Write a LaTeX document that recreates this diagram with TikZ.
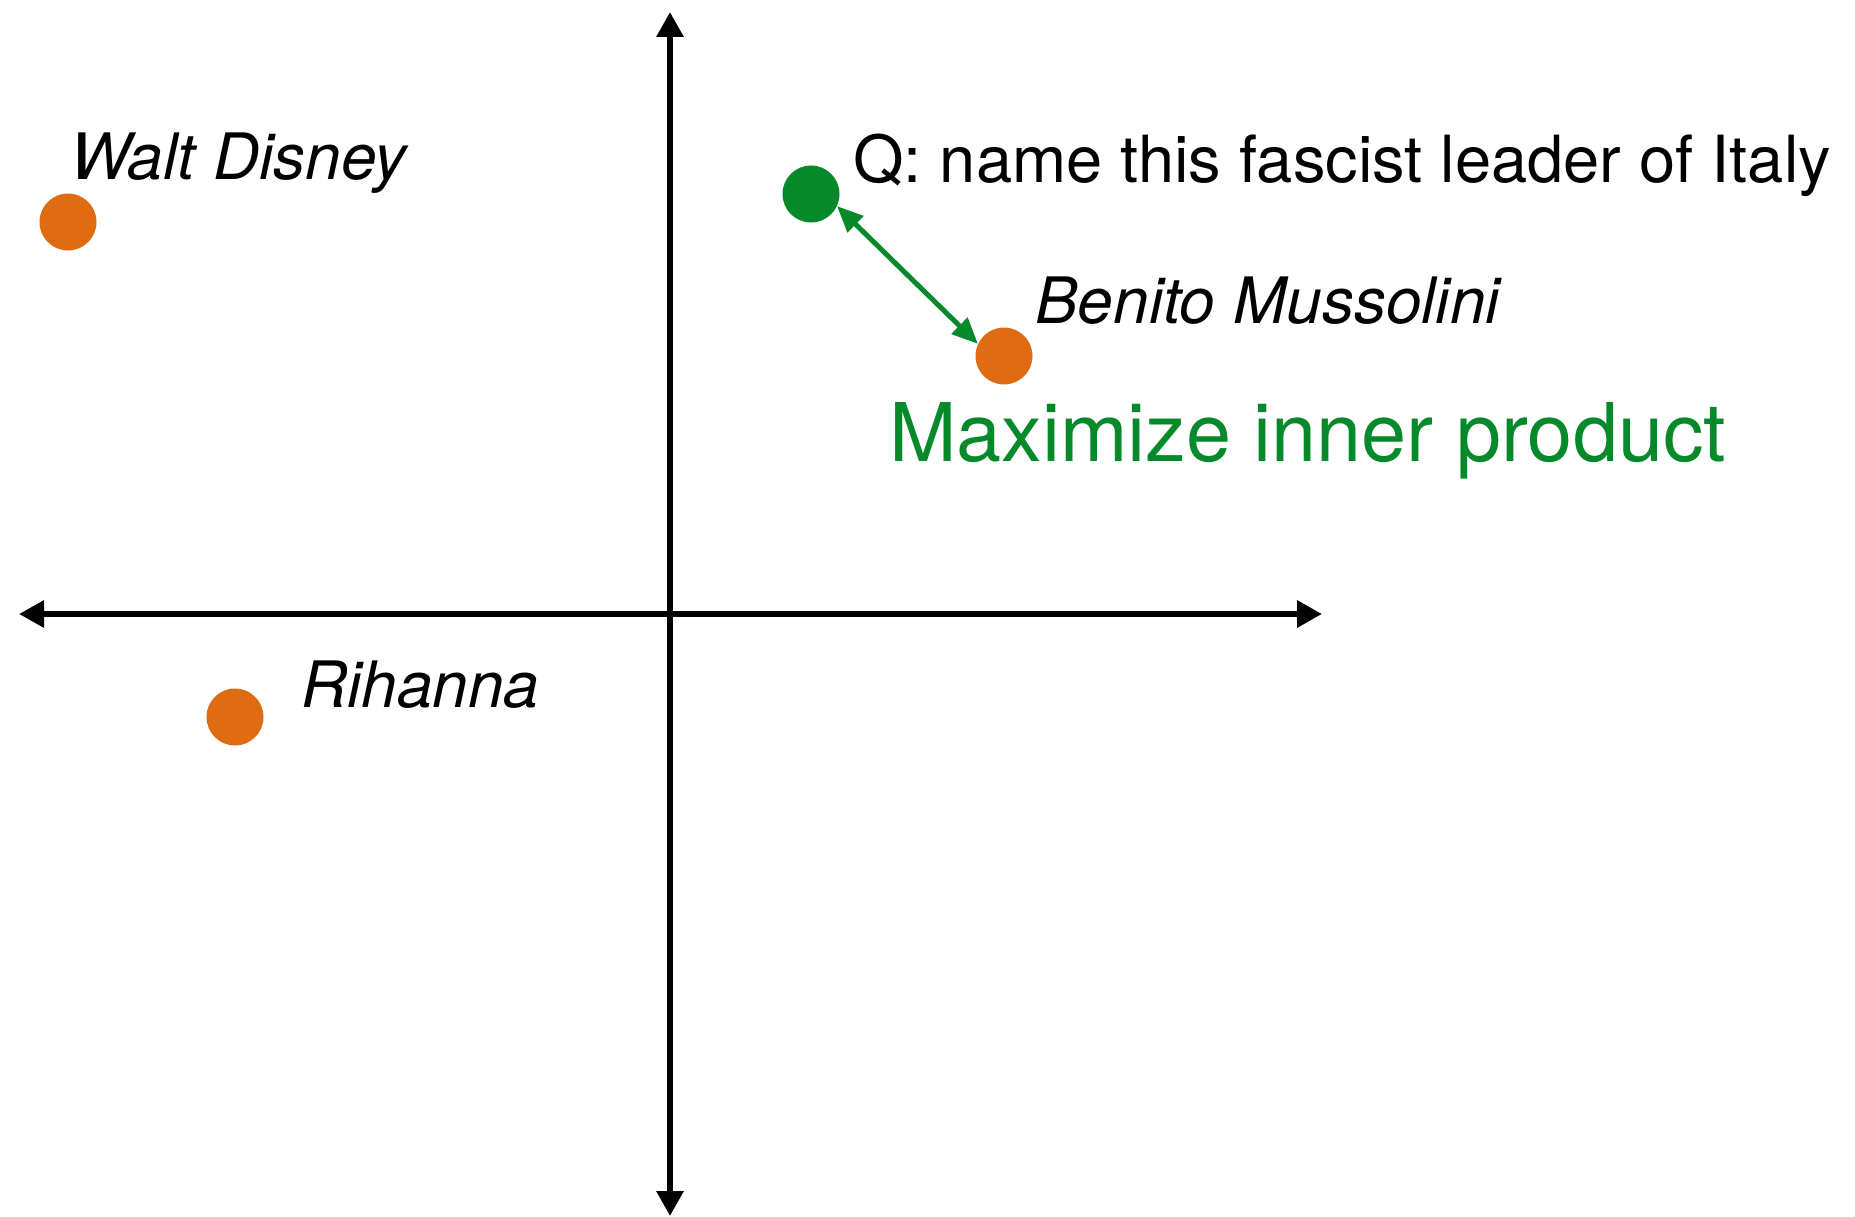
\documentclass[tikz,border=0pt]{standalone}
\usepackage{fontspec}
\setmainfont{TeX Gyre Heros}
\usetikzlibrary{arrows.meta}
\definecolor{dotorange}{RGB}{223,108,18}
\definecolor{qgreen}{RGB}{5,137,43}
\begin{document}
\begin{tikzpicture}[x=1pt,y=-1pt,
  axis/.style={line width=6pt, -{Triangle[length=25pt,width=26pt]}},
  dot/.style={circle, fill=#1, inner sep=0pt, minimum size=57pt},
  lbl/.style={anchor=base west, inner sep=0pt, font=\fontsize{64}{70}\selectfont\itshape},
  qlbl/.style={anchor=base west, inner sep=0pt, font=\fontsize{65}{70}\selectfont},
  link/.style={qgreen, line width=5pt, {Triangle[length=26pt,width=22pt]}-{Triangle[length=26pt,width=22pt]}}]
\useasboundingbox (0,0) rectangle (1855,1217);
\coordinate (o) at (670,614);
\coordinate (top) at (670,12);
\coordinate (bot) at (670,1216);
\coordinate (lft) at (19,614);
\coordinate (rgt) at (1322,614);
\draw[axis] (o) -- (top);
\draw[axis] (o) -- (bot);
\draw[axis] (o) -- (lft);
\draw[axis] (o) -- (rgt);
\node[dot=dotorange] (wd) at (68,222) {};
\node[dot=dotorange] (rh) at (235,717) {};
\node[dot=dotorange] (bm) at (1004,356) {};
\node[dot=qgreen] (q) at (811,194) {};
\draw[link] (q.-25) -- (bm.155);
\node[lbl] (wdt) at (70,180) {Walt Disney};
\node[lbl] (rht) at (301,707) {Rihanna};
\node[lbl] (bmt) at (1035,323) {Benito Mussolini};
\node[qlbl] (qt) at (853,183) {Q: name this fascist leader of Italy};
\node[anchor=base west, inner sep=0pt, font=\fontsize{81}{90}\selectfont, text=qgreen] (mt) at (889,461) {Maximize inner product};
\end{tikzpicture}
\end{document}
